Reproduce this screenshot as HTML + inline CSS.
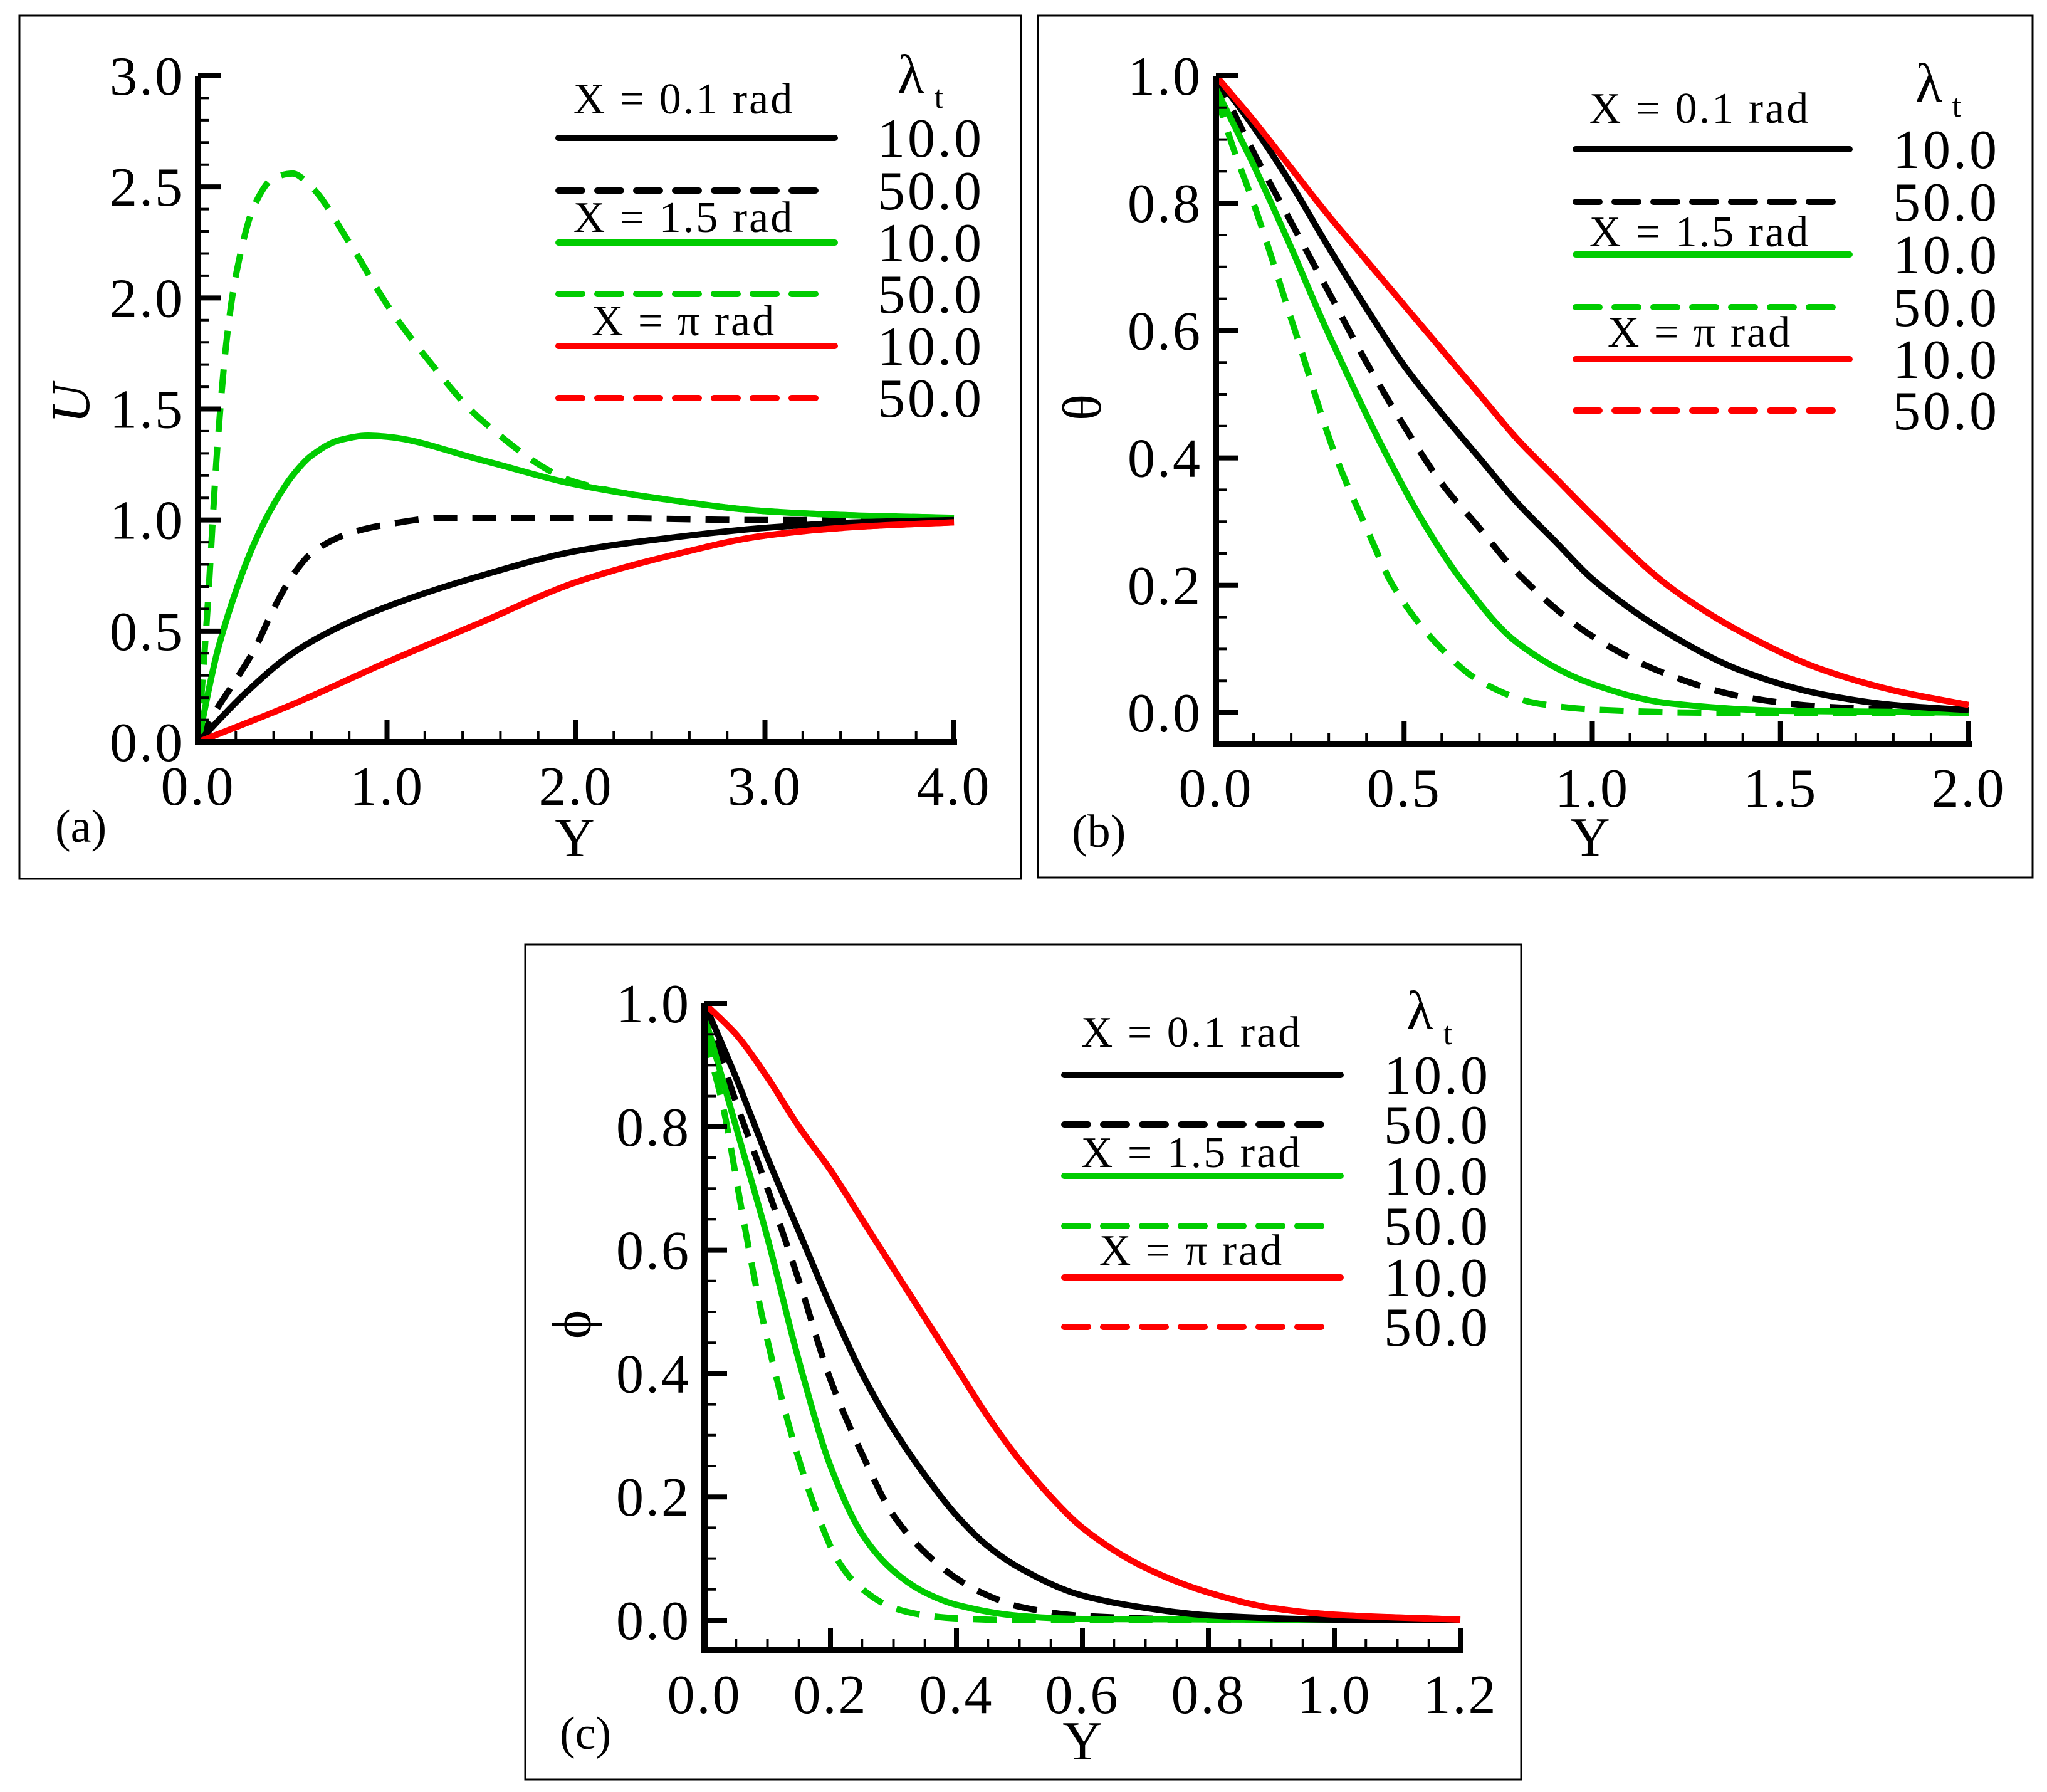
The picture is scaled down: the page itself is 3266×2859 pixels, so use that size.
<!DOCTYPE html>
<html><head><meta charset="utf-8">
<style>
html,body{margin:0;padding:0;background:#fff;}
svg{display:block;}
text{font-family:"Liberation Serif",serif;fill:#000;}
</style></head>
<body>
<svg id="fig" width="3266" height="2859" viewBox="0 0 3266 2859" xmlns="http://www.w3.org/2000/svg"></svg>
<script>
// ---------- Panel (a): U vs Y ----------
const aBlackSolidX = [0,0.25,0.5,0.75,1.0,1.5,2.0,2.5,3.0,3.5,4.0];
const aBlackSolidY = [0,0.22,0.40,0.52,0.61,0.75,0.86,0.92,0.965,0.99,1.0];
const aBlackDashX = [0,0.1,0.2,0.3,0.4,0.5,0.6,0.8,1.0,1.3,2.0,3.0,4.0];
const aBlackDashY = [0,0.15,0.28,0.42,0.6,0.75,0.85,0.94,0.98,1.01,1.01,1.0,1.0];
const aGreenSolidX = [0,0.1,0.2,0.3,0.4,0.5,0.6,0.75,0.9,1.0,1.5,2.0,2.5,3.0,3.5,4.0];
const aGreenSolidY = [0,0.4,0.68,0.9,1.07,1.2,1.29,1.36,1.38,1.375,1.27,1.16,1.09,1.04,1.02,1.01];
const aGreenDashX = [0,0.05,0.1,0.15,0.2,0.3,0.4,0.5,0.6,0.8,1.0,1.2,1.5,2.0,2.5,3.0,3.5,4.0];
const aGreenDashY = [0,0.6,1.3,1.8,2.1,2.42,2.54,2.56,2.5,2.25,1.97,1.74,1.45,1.17,1.09,1.04,1.02,1.01];
const aRedX = [0,0.5,1.0,1.5,2.0,2.5,3.0,3.5,4.0];
const aRedY = [0,0.17,0.36,0.54,0.72,0.84,0.93,0.97,0.99];
const aXTicks = ["0.0","1.0","2.0","3.0","4.0"];
const aYTicks = ["0.0","0.5","1.0","1.5","2.0","2.5","3.0"];

// ---------- Panel (b): theta vs Y ----------
const bBlackSolidX = [0,0.1,0.2,0.3,0.4,0.5,0.6,0.7,0.8,0.9,1.0,1.2,1.4,1.6,1.8,2.0];
const bBlackSolidY = [1,0.92,0.83,0.73,0.635,0.545,0.47,0.4,0.33,0.27,0.21,0.125,0.065,0.03,0.012,0.004];
const bBlackDashX = [0,0.1,0.2,0.3,0.4,0.5,0.6,0.7,0.8,1.0,1.2,1.4,1.6,2.0];
const bBlackDashY = [1,0.88,0.77,0.66,0.55,0.45,0.36,0.29,0.22,0.12,0.06,0.025,0.01,0];
const bGreenSolidX = [0,0.1,0.2,0.28,0.35,0.44,0.55,0.65,0.8,1.0,1.2,1.5,2.0];
const bGreenSolidY = [0.98,0.86,0.73,0.62,0.53,0.42,0.3,0.21,0.11,0.045,0.015,0.003,0];
const bGreenDashX = [0,0.05,0.1,0.21,0.32,0.4,0.47,0.6,0.7,0.85,1.0,1.3,2.0];
const bGreenDashY = [0.97,0.88,0.8,0.6,0.4,0.29,0.2,0.1,0.05,0.015,0.005,0,0];
const bRedX = [0,0.1,0.2,0.3,0.4,0.5,0.6,0.7,0.8,0.9,1.0,1.2,1.4,1.6,1.8,2.0];
const bRedY = [1,0.93,0.855,0.78,0.71,0.64,0.57,0.5,0.43,0.37,0.31,0.2,0.125,0.07,0.035,0.012];
const bXTicks = ["0.0","0.5","1.0","1.5","2.0"];
const bYTicks = ["0.0","0.2","0.4","0.6","0.8","1.0"];

// ---------- Panel (c): phi vs Y ----------
const cBlackSolidX = [0,0.05,0.1,0.15,0.2,0.25,0.3,0.35,0.4,0.45,0.5,0.6,0.7,0.8,1.0,1.2];
const cBlackSolidY = [1,0.88,0.75,0.63,0.51,0.4,0.31,0.235,0.17,0.12,0.085,0.04,0.02,0.008,0.001,0];
const cBlackDashX = [0,0.05,0.1,0.15,0.2,0.25,0.3,0.35,0.4,0.45,0.5,0.6,0.8,1.2];
const cBlackDashY = [1,0.84,0.7,0.55,0.39,0.27,0.17,0.11,0.068,0.04,0.022,0.007,0.001,0];
const cGreenSolidX = [0,0.05,0.1,0.15,0.2,0.25,0.3,0.35,0.4,0.5,0.6,1.2];
const cGreenSolidY = [0.98,0.8,0.62,0.42,0.25,0.14,0.08,0.045,0.025,0.007,0.002,0];
const cGreenDashX = [0,0.03,0.06,0.09,0.12,0.15,0.18,0.21,0.24,0.3,0.35,0.4,0.5,1.2];
const cGreenDashY = [0.95,0.83,0.66,0.5,0.37,0.26,0.17,0.1,0.06,0.02,0.008,0.003,0,0];
const cRedX = [0,0.05,0.1,0.15,0.2,0.25,0.3,0.35,0.4,0.45,0.5,0.55,0.6,0.7,0.8,0.9,1.0,1.2];
const cRedY = [1,0.95,0.88,0.8,0.73,0.65,0.57,0.49,0.41,0.33,0.26,0.2,0.15,0.085,0.045,0.02,0.009,0.001];
const cXTicks = ["0.0","0.2","0.4","0.6","0.8","1.0","1.2"];
const cYTicks = ["0.0","0.2","0.4","0.6","0.8","1.0"];

const legendValues = ["10.0","50.0","10.0","50.0","10.0","50.0"];
const legendHeaders = ["X = 0.1 rad","X = 1.5 rad","X = \u03c0 rad"];

const NS = "http://www.w3.org/2000/svg";
const svg = document.getElementById('fig');
const GREEN = "#00cc00", RED = "#ff0000", BLACK = "#000";

function mk(tag, attrs, parent, txt){
  const e = document.createElementNS(NS, tag);
  for (const k in attrs) e.setAttribute(k, attrs[k]);
  if (txt !== undefined) e.textContent = txt;
  parent.appendChild(e);
  return e;
}
function smoothPath(pts){
  const n = pts.length;
  const dx=[], m=[];
  for (let i=0;i<n-1;i++){ dx[i]=pts[i+1][0]-pts[i][0]; m[i]=(pts[i+1][1]-pts[i][1])/dx[i]; }
  const t=[m[0]];
  for (let i=1;i<n-1;i++){
    if (m[i-1]*m[i] <= 0) t[i]=0;
    else { const w1=2*dx[i]+dx[i-1], w2=dx[i]+2*dx[i-1]; t[i]=(w1+w2)/(w1/m[i-1]+w2/m[i]); }
  }
  t[n-1]=m[n-2];
  let d = "M" + pts[0][0].toFixed(1) + "," + pts[0][1].toFixed(1);
  for (let i=0;i<n-1;i++){
    const h=dx[i]/3;
    d += " C"+(pts[i][0]+h).toFixed(1)+","+(pts[i][1]+t[i]*h).toFixed(1)+" "+(pts[i+1][0]-h).toFixed(1)+","+(pts[i+1][1]-t[i+1]*h).toFixed(1)+" "+pts[i+1][0].toFixed(1)+","+pts[i+1][1].toFixed(1);
  }
  return d;
}

function panel(cfg){
  const g = mk('g', {}, svg);
  
  
  const fr = mk('rect', {x:cfg.frame[0], y:cfg.frame[1], width:cfg.frame[2], height:cfg.frame[3], fill:'none', stroke:'#000', 'stroke-width':3}, g);
  
  
  const sx = v => cfg.px0 + (v - cfg.xmin)/(cfg.xmax - cfg.xmin)*(cfg.px1 - cfg.px0);
  const sy = v => cfg.py0 + (v - 0)/(cfg.ymax - 0)*(cfg.py1 - cfg.py0);

  const cg = mk('g', {fill:'none','stroke-width':10,'stroke-linejoin':'round'}, g);
  
  
  cfg.series.forEach(s => {
    const pts = s.x.map((xv,i)=>[sx(xv), sy(s.y[i])]);
    const p = mk('path', {d:smoothPath(pts), stroke:s.color}, cg);
    if (s.dash) p.setAttribute('stroke-dasharray', '38 24');
    
    
  });

  const ag = mk('g', {stroke:'#000','stroke-width':10}, g);
  
  
  const yTop = sy(cfg.ymax);
  const yl = mk('line', {x1:cfg.px0, y1:yTop, x2:cfg.px0, y2:cfg.axisY+5}, ag);
  
  
  const xl = mk('line', {x1:cfg.px0-5, y1:cfg.axisY, x2:cfg.px1+5, y2:cfg.axisY}, ag);
  
  
  const nyMin = Math.round(cfg.ymax/cfg.yminor);
  for (let i=0;i<=nyMin;i++){
    const v = i*cfg.yminor;
    const major = Math.abs(v/cfg.ymajor - Math.round(v/cfg.ymajor))<1e-6;
    const t = mk('line', {x1:cfg.px0, y1:sy(v), x2:cfg.px0+(major?36:18), y2:sy(v), 'stroke-width':major?8:4}, ag);
    
    
  }
  const nxMin = Math.round((cfg.xmax-cfg.xmin)/cfg.xminor);
  for (let i=0;i<=nxMin;i++){
    const v = cfg.xmin + i*cfg.xminor;
    const major = Math.abs(v/cfg.xmajor - Math.round(v/cfg.xmajor))<1e-6;
    const t = mk('line', {x1:sx(v), y1:cfg.axisY, x2:sx(v), y2:cfg.axisY-(major?36:18), 'stroke-width':major?8:4}, ag);
    
    
  }
  cfg.yTicks.forEach(lbl => {
    const t = mk('text', {x:cfg.px0-22, y:sy(parseFloat(lbl))+30, 'font-size':88, 'letter-spacing':3, 'text-anchor':'end'}, g, lbl);
    
    
  });
  cfg.xTicks.forEach(lbl => {
    const t = mk('text', {x:sx(parseFloat(lbl)), y:cfg.axisY+100, 'font-size':88, 'letter-spacing':3, 'text-anchor':'middle'}, g, lbl);
    
    
  });
  const xt = mk('text', {x:cfg.xTitle[0], y:cfg.xTitle[1], 'font-size':88, 'text-anchor':'middle'}, g, 'Y');
  
  
  const ytAttrs = {x:0, y:0, 'font-size':88, 'text-anchor':'middle', transform:'translate('+cfg.yTitle[0]+','+cfg.yTitle[1]+') rotate(-90)'};
  if (cfg.yItalic) ytAttrs['font-style'] = 'italic';
  const yt = mk('text', ytAttrs, g, cfg.yLabel);
  
  
  const pl = mk('text', {x:cfg.tag[0], y:cfg.tag[1], 'font-size':74}, g, cfg.tagText);
  
  

  const lg = mk('g', {}, g);
  
  
  const colors = [BLACK,BLACK,GREEN,GREEN,RED,RED];
  cfg.legRows.forEach((ry,i)=>{
    const dash = i%2===1;
    const l = mk('line', {x1:cfg.legX[0], y1:ry, x2:cfg.legX[1]-(dash?18:0), y2:ry, stroke:colors[i], 'stroke-width':10, 'stroke-linecap':'round'}, lg);
    if (dash) l.setAttribute('stroke-dasharray', '38 24');
    
    
    const n = mk('text', {x:cfg.legNumX, y:ry+30, 'font-size':88, 'letter-spacing':4, 'text-anchor':'end'}, lg, legendValues[i]);
    
    
  });
  cfg.legHeads.forEach((hy,i)=>{
    const h = mk('text', {x:cfg.legHeadX, y:hy, 'font-size':70, 'letter-spacing':3, 'text-anchor':'middle'}, lg, legendHeaders[i]);
    
    
  });
  const lam = mk('text', {x:cfg.lambda[0], y:cfg.lambda[1], 'font-size':88}, lg);
  
  
  mk('tspan', {}, lam, '\u03bb');
  mk('tspan', {'font-size':52, dx:16, dy:24}, lam, 't');
}

panel({name:'panel-a', frame:[31,25,1598,1377], px0:316, px1:1522, xmin:0, xmax:4, py0:1184, py1:121, ymax:3, axisY:1184,
  xmajor:1, xminor:0.2, ymajor:0.5, yminor:0.1, xTicks:aXTicks, yTicks:aYTicks,
  xTitle:[917,1366], yTitle:[142,644], yLabel:'U', yItalic:true, tag:[88,1343], tagText:'(a)',
  legX:[891,1332], legRows:[220,304,387,469,552,635], legNumX:1570, legHeadX:1091, legHeads:[181,370,535], lambda:[1432,148],
  series:[
    {name:'u-x1.5-lambda50', x:aGreenDashX, y:aGreenDashY, color:GREEN, dash:true},
    {name:'u-xpi-lambda50', x:aRedX, y:aRedY, color:RED, dash:true},
    {name:'u-x0.1-lambda50', x:aBlackDashX, y:aBlackDashY, color:BLACK, dash:true},
    {name:'u-x1.5-lambda10', x:aGreenSolidX, y:aGreenSolidY, color:GREEN},
    {name:'u-x0.1-lambda10', x:aBlackSolidX, y:aBlackSolidY, color:BLACK},
    {name:'u-xpi-lambda10', x:aRedX, y:aRedY, color:RED}
  ]});

panel({name:'panel-b', frame:[1656,25,1587,1375], px0:1940, px1:3141, xmin:0, xmax:2, py0:1137, py1:121, ymax:1, axisY:1187,
  xmajor:0.5, xminor:0.1, ymajor:0.2, yminor:0.05, xTicks:bXTicks, yTicks:bYTicks,
  xTitle:[2537,1365], yTitle:[1756,650], yLabel:'\u03b8', tag:[1710,1351], tagText:'(b)',
  legX:[2514,2951], legRows:[238,322,406,490,573,655], legNumX:3190, legHeadX:2712, legHeads:[196,393,553], lambda:[3056,162],
  series:[
    {name:'theta-xpi-lambda50', x:bRedX, y:bRedY, color:RED, dash:true},
    {name:'theta-x0.1-lambda50', x:bBlackDashX, y:bBlackDashY, color:BLACK, dash:true},
    {name:'theta-x1.5-lambda50', x:bGreenDashX, y:bGreenDashY, color:GREEN, dash:true},
    {name:'theta-x1.5-lambda10', x:bGreenSolidX, y:bGreenSolidY, color:GREEN},
    {name:'theta-x0.1-lambda10', x:bBlackSolidX, y:bBlackSolidY, color:BLACK},
    {name:'theta-xpi-lambda10', x:bRedX, y:bRedY, color:RED}
  ]});

panel({name:'panel-c', frame:[838,1507,1589,1332], px0:1124, px1:2330, xmin:0, xmax:1.2, py0:2585, py1:1601, ymax:1, axisY:2633,
  xmajor:0.2, xminor:0.05, ymajor:0.2, yminor:0.05, xTicks:cXTicks, yTicks:cYTicks,
  xTitle:[1727,2807], yTitle:[942,2113], yLabel:'\u03d5', tag:[893,2790], tagText:'(c)',
  legX:[1698,2139], legRows:[1715,1794,1876,1956,2038,2117], legNumX:2378, legHeadX:1901, legHeads:[1670,1862,2018], lambda:[2244,1642],
  series:[
    {name:'phi-xpi-lambda50', x:cRedX, y:cRedY, color:RED, dash:true},
    {name:'phi-x0.1-lambda50', x:cBlackDashX, y:cBlackDashY, color:BLACK, dash:true},
    {name:'phi-x1.5-lambda50', x:cGreenDashX, y:cGreenDashY, color:GREEN, dash:true},
    {name:'phi-x1.5-lambda10', x:cGreenSolidX, y:cGreenSolidY, color:GREEN},
    {name:'phi-x0.1-lambda10', x:cBlackSolidX, y:cBlackSolidY, color:BLACK},
    {name:'phi-xpi-lambda10', x:cRedX, y:cRedY, color:RED}
  ]});
</script>
</body></html>
